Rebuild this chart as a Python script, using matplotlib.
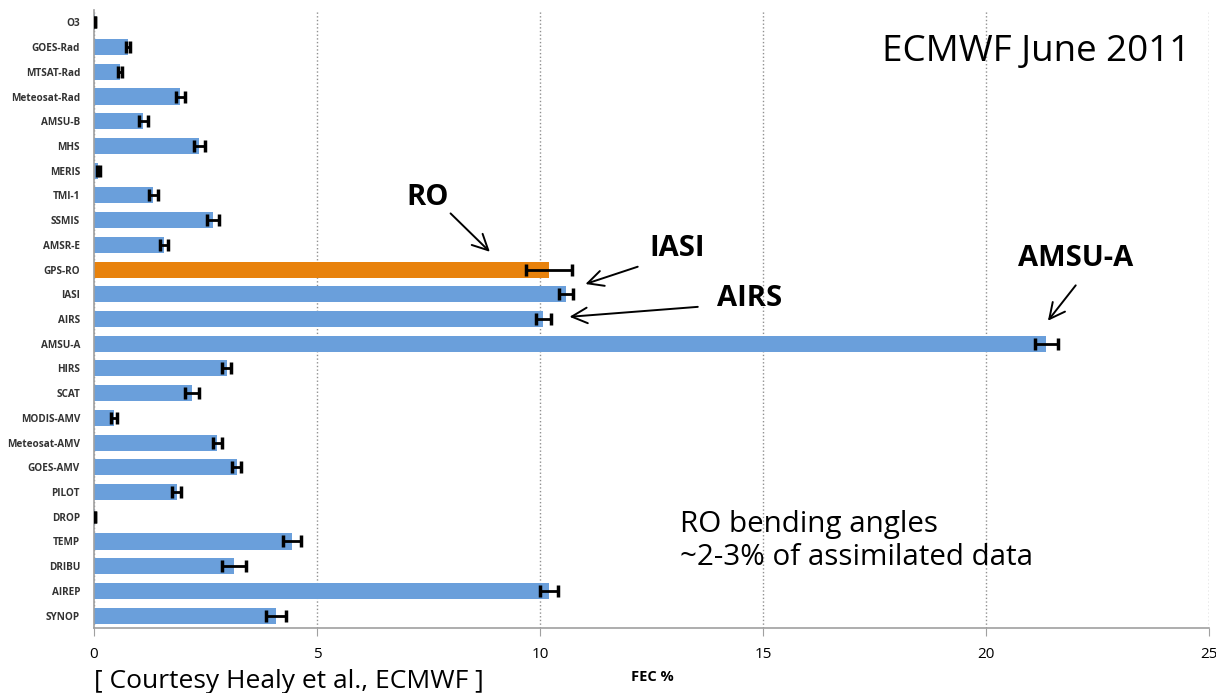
import numpy as np
import matplotlib.pyplot as plt

# FEC % per observation type, top to bottom as in the chart
obs_types = ['O3', 'GOES-Rad', 'MTSAT-Rad', 'Meteosat-Rad', 'AMSU-B', 'MHS', 'MERIS',
             'TMI-1', 'SSMIS', 'AMSR-E', 'GPS-RO', 'IASI', 'AIRS', 'AMSU-A', 'HIRS',
             'SCAT', 'MODIS-AMV', 'Meteosat-AMV', 'GOES-AMV', 'PILOT', 'DROP', 'TEMP',
             'DRIBU', 'AIREP', 'SYNOP']
fec = [0.02, 0.76, 0.58, 1.93, 1.10, 2.36, 0.10, 1.33, 2.67, 1.57, 10.20, 10.58, 10.07,
       21.35, 2.98, 2.20, 0.45, 2.76, 3.20, 1.86, 0.02, 4.44, 3.14, 10.20, 4.08]
fec_err = [0.0, 0.05, 0.04, 0.10, 0.10, 0.12, 0.03, 0.10, 0.13, 0.10, 0.52, 0.16, 0.17,
           0.26, 0.10, 0.16, 0.07, 0.10, 0.10, 0.10, 0.0, 0.21, 0.26, 0.20, 0.22]
highlight = 'GPS-RO'

blue = '#6a9fdb'
orange = '#e8820c'
plt.rcParams['font.family'] = ['Open Sans', 'DejaVu Sans']

fig = plt.figure(figsize=(12.16, 6.93), dpi=100)
ax = fig.add_axes([94 / 1216, 1 - 628 / 693, (1209 - 94) / 1216, (628 - 10) / 693])

y = np.arange(len(obs_types))
colors = [orange if name == highlight else blue for name in obs_types]
ax.barh(y, fec, height=0.65, color=colors, zorder=2)
ax.errorbar(fec, y, xerr=fec_err, fmt='none', ecolor='black', elinewidth=2,
            capsize=4, capthick=2.5, zorder=3)

ax.set_xlim(0, 25)
ax.set_ylim(len(obs_types) - 0.5, -0.5)
ax.set_xticks([0, 5, 10, 15, 20, 25])
ax.set_yticks(y)
ax.set_yticklabels(obs_types, fontsize=7.2, fontweight='bold', color='#333333')
ax.tick_params(axis='y', length=0, pad=10)
ax.tick_params(axis='x', direction='out', length=6, color='#a0a0a0', labelsize=11, pad=8)
ax.xaxis.grid(True, linestyle=':', color='#909090', linewidth=1)
ax.set_axisbelow(True)
for side in ['top', 'right']:
    ax.spines[side].set_visible(False)
for side in ['left', 'bottom']:
    ax.spines[side].set_color('#a0a0a0')
    ax.spines[side].set_linewidth(1.2)

# annotations
arrow = dict(arrowstyle='->', color='black', lw=1.4, mutation_scale=28)
ax.text(7.47, 7.1, 'RO', fontsize=21, fontweight='bold', ha='center', va='center')
ax.annotate('', xy=(8.92, 9.36), xytext=(7.95, 7.65), arrowprops=arrow)
ax.text(13.07, 9.16, 'IASI', fontsize=21, fontweight='bold', ha='center', va='center')
ax.annotate('', xy=(10.96, 10.62), xytext=(12.25, 9.85), arrowprops=arrow)
ax.text(14.7, 11.19, 'AIRS', fontsize=21, fontweight='bold', ha='center', va='center')
ax.annotate('', xy=(10.6, 11.92), xytext=(13.6, 11.5), arrowprops=arrow)
ax.text(22.0, 9.57, 'AMSU-A', fontsize=21, fontweight='bold', ha='center', va='center')
ax.annotate('', xy=(21.35, 12.16), xytext=(22.05, 10.55), arrowprops=arrow)

fig.text(1190 / 1216, 1 - 52 / 693, 'ECMWF June 2011', fontsize=26.5, ha='right', va='center')
fig.text(680 / 1216, 1 - 541 / 693, 'RO bending angles\n~2-3% of assimilated data',
         fontsize=21.3, ha='left', va='center', linespacing=1.15)
fig.text(94 / 1216, 1 - 681 / 693, '[ Courtesy Healy et al., ECMWF ]', fontsize=19,
         ha='left', va='center')
fig.text(652 / 1216, 1 - 677 / 693, 'FEC %', fontsize=10.5, fontweight='bold',
         ha='center', va='center')

fig.savefig('out.png', dpi=100, facecolor='white')
